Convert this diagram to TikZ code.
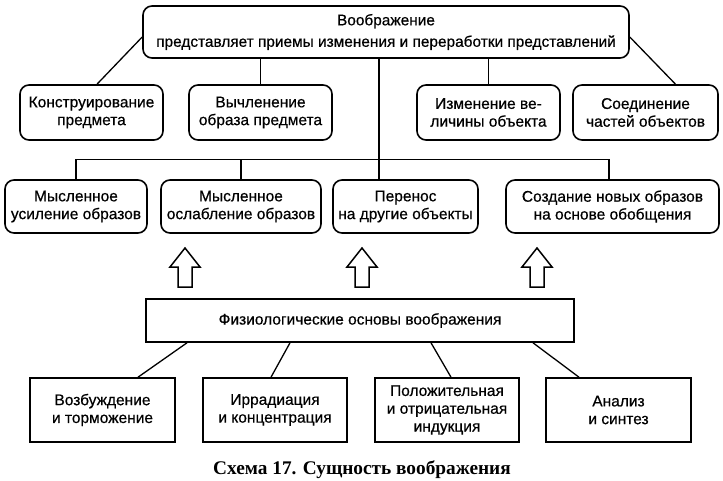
\documentclass[tikz,border=0pt]{standalone}
\usepackage{fontspec}
\setmainfont{Liberation Sans}
\newfontfamily\bodyfont{Liberation Sans}[FakeBold=0.5]
\newfontfamily\capfont{Liberation Serif}
\usetikzlibrary{calc}
\begin{document}
\begin{tikzpicture}[x=1pt,y=-1pt,
  rbox/.style={draw, rounded corners=9pt, line width=1.6pt, align=center, inner sep=0pt, font=\bodyfont\fontsize{15.5}{17.8}\selectfont},
  sbox/.style={draw, line width=1.6pt, align=center, inner sep=0pt, font=\bodyfont\fontsize{15.5}{17.8}\selectfont},
  conn/.style={line width=1.3pt},
  blk/.style={draw, line width=1.5pt, line join=miter}]
\useasboundingbox[fill=white] (0,0) rectangle (723,481);
% top
\node[rbox, minimum width=486pt, minimum height=52pt, font=\bodyfont\fontsize{15.4}{21.5}\selectfont] (top) at (386,32)
  {Воображение\\представляет приемы изменения и переработки представлений};
% row 2
\node[rbox, minimum width=143pt, minimum height=55pt] (A) at (91.5,112.5) {Конструирование\\предмета};
\node[rbox, minimum width=143pt, minimum height=55pt] (B) at (260.5,112.5) {Вычленение\\образа предмета};
\node[rbox, minimum width=143pt, minimum height=55pt] (C) at (488.5,112.5) {Изменение ве-\\личины объекта};
\node[rbox, minimum width=145pt, minimum height=55pt] (D) at (645.5,112.5) {Соединение\\частей объектов};
% row 3
\node[rbox, minimum width=142pt, minimum height=53pt] (E) at (76,206.5) {Мысленное\\усиление образов};
\node[rbox, minimum width=160pt, minimum height=53pt] (F) at (241,206.5) {Мысленное\\ослабление образов};
\node[rbox, minimum width=145pt, minimum height=53pt] (G) at (405.5,206.5) {Перенос\\на другие объекты};
\node[rbox, minimum width=213pt, minimum height=53pt] (H) at (612.5,206.5) {Создание новых образов\\на основе обобщения};
% physiological
\node[sbox, minimum width=428pt, minimum height=43pt] (P) at (360,320.5) {Физиологические основы воображения};
% bottom
\node[sbox, minimum width=145pt, minimum height=64pt] (I) at (102.5,410) {Возбуждение\\и торможение};
\node[sbox, minimum width=144pt, minimum height=64pt] (J) at (275,410) {Иррадиация\\и концентрация};
\node[sbox, minimum width=144pt, minimum height=64pt] (K) at (447,410) {Положительная\\и отрицательная\\индукция};
\node[sbox, minimum width=145pt, minimum height=64pt] (L) at (618.5,410) {Анализ\\и синтез};
% caption
\node[font=\capfont\bfseries\fontsize{19.3}{21}\selectfont] (cap) at (362,470) {Схема 17. Сущность воображения};
% connectors top
\draw[conn] ([yshift=-5pt]top.west) -- ([xshift=5.5pt]A.north);
\draw[conn] (B.north |- top.south) -- (B.north);
\draw[conn] (C.north |- top.south) -- (C.north);
\draw[conn] ([yshift=-5pt]top.east) -- ([xshift=30pt]D.north);
\coordinate (gN) at ([xshift=-26.5pt]G.north);
\draw[conn] (gN |- top.south) -- (gN);
\coordinate (barL) at ([yshift=20pt]E.north);
\draw[conn] (E.north) -- (barL) -| ([xshift=-3.5pt]H.north);
\draw[conn] (F.north) -- (F.north |- barL);
% block arrows
\foreach \ax in {185,362,537}{
  \draw[blk] (\ax,287) ++(-7,0) -- ++(0,-20) -- ++(-8,0) -- ++(15,-19) -- ++(15,19) -- ++(-8,0) -- ++(0,20) -- cycle;
}
% connectors bottom
\draw[conn] ([xshift=-173pt]P.south) -- ([xshift=35.5pt]I.north);
\draw[conn] ([xshift=-70pt]P.south) -- ([xshift=-4pt]J.north);
\draw[conn] ([xshift=71pt]P.south) -- ([xshift=4pt]K.north);
\draw[conn] ([xshift=173pt]P.south) -- ([xshift=-39.5pt]L.north);
\end{tikzpicture}
\end{document}
